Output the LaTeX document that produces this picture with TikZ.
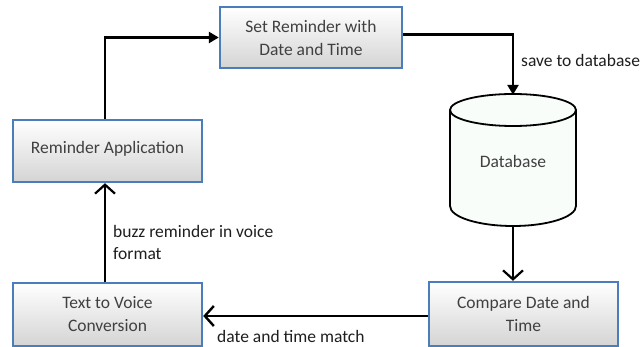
\documentclass[tikz,border=0pt]{standalone}
\usepackage{fontspec}
\setmainfont{Carlito}
\usetikzlibrary{arrows.meta,calc}
\definecolor{boxblue}{RGB}{74,126,187}
\definecolor{boxtext}{RGB}{64,64,64}
\definecolor{dbfill}{RGB}{248,253,250}
\tikzset{
  x=1pt,y=-1pt,
  procbox/.style={draw=boxblue,line width=2.4pt,top color=white,bottom color={rgb,255:red,212;green,212;blue,212},
    text=boxtext,align=center,inner sep=0pt,font=\fontsize{17.5}{23}\selectfont},
  lbl/.style={text={rgb,255:red,30;green,30;blue,30},align=left,inner sep=0pt,font=\fontsize{17.5}{22}\selectfont},
  thickarrow/.style={line width=2.6pt,-{Triangle[length=10pt,width=11pt]}},
  thinarrow/.style={line width=1.8pt,-{Straight Barb[length=9pt,width=20pt,line width=2.2pt]}},
  midarrow/.style={line width=2.4pt,-{Straight Barb[length=9pt,width=20pt,line width=2.4pt]}}
}
\begin{document}
\begin{tikzpicture}
\useasboundingbox (0,0) rectangle (644,347);
% boxes
\node[procbox,minimum width=182pt,minimum height=61pt] (sr) at (311,37.5) {Set Reminder with\\Date and Time};
\node[procbox,minimum width=189pt,minimum height=62pt] (ra) at (107.5,151) {\raisebox{8pt}{Reminder Application}};
\node[procbox,minimum width=189pt,minimum height=63pt] (tv) at (107.5,314.5) {Text to Voice\\Conversion};
\node[procbox,minimum width=189pt,minimum height=64pt] (cmp) at (523.5,314) {Compare Date and\\Time};
% database cylinder
\fill[dbfill] (450,110) -- (450,206) arc[start angle=180,end angle=360,x radius=63,y radius=-20] -- (576,110) -- cycle;
\fill[dbfill] (513,110) ellipse[x radius=63,y radius=16];
\draw[line width=1.8pt] (450,110) -- (450,206) arc[start angle=180,end angle=360,x radius=63,y radius=-20] -- (576,110);
\draw[line width=1.8pt] (513,110) ellipse[x radius=63,y radius=16];
\node[inner sep=0pt,minimum width=126pt,minimum height=132pt,text=boxtext,font=\fontsize{17.5}{23}\selectfont] (db) at (513,161) {Database};
% connector anchors
\coordinate (raTop) at ($(ra.north)+(-2.5,0)$);
\coordinate (raBot) at ($(ra.south)+(-2.5,0)$);
\coordinate (tvTop) at ($(tv.north)+(-2.5,0)$);
\coordinate (srOut) at ($(sr.east)+(0,-3)$);
\coordinate (cmpOut) at ($(cmp.west)+(0,2)$);
% connectors
\draw[thickarrow] (raTop) |- (sr.west);
\draw[thickarrow] (srOut) -| (db.north);
\draw[thinarrow] (db.south) -- (db.south |- cmp.north);
\draw[midarrow] (cmpOut) -- (cmpOut -| tv.east);
\draw[thinarrow] (tvTop) -- (raBot);
% labels
\node[lbl,anchor=west] (l1) at (521,60) {save to database};
\node[lbl,anchor=west] (l2) at (113,242) {buzz reminder in voice\\format};
\node[lbl,anchor=west] (l3) at (217,336) {date and time match};
\end{tikzpicture}
\end{document}
